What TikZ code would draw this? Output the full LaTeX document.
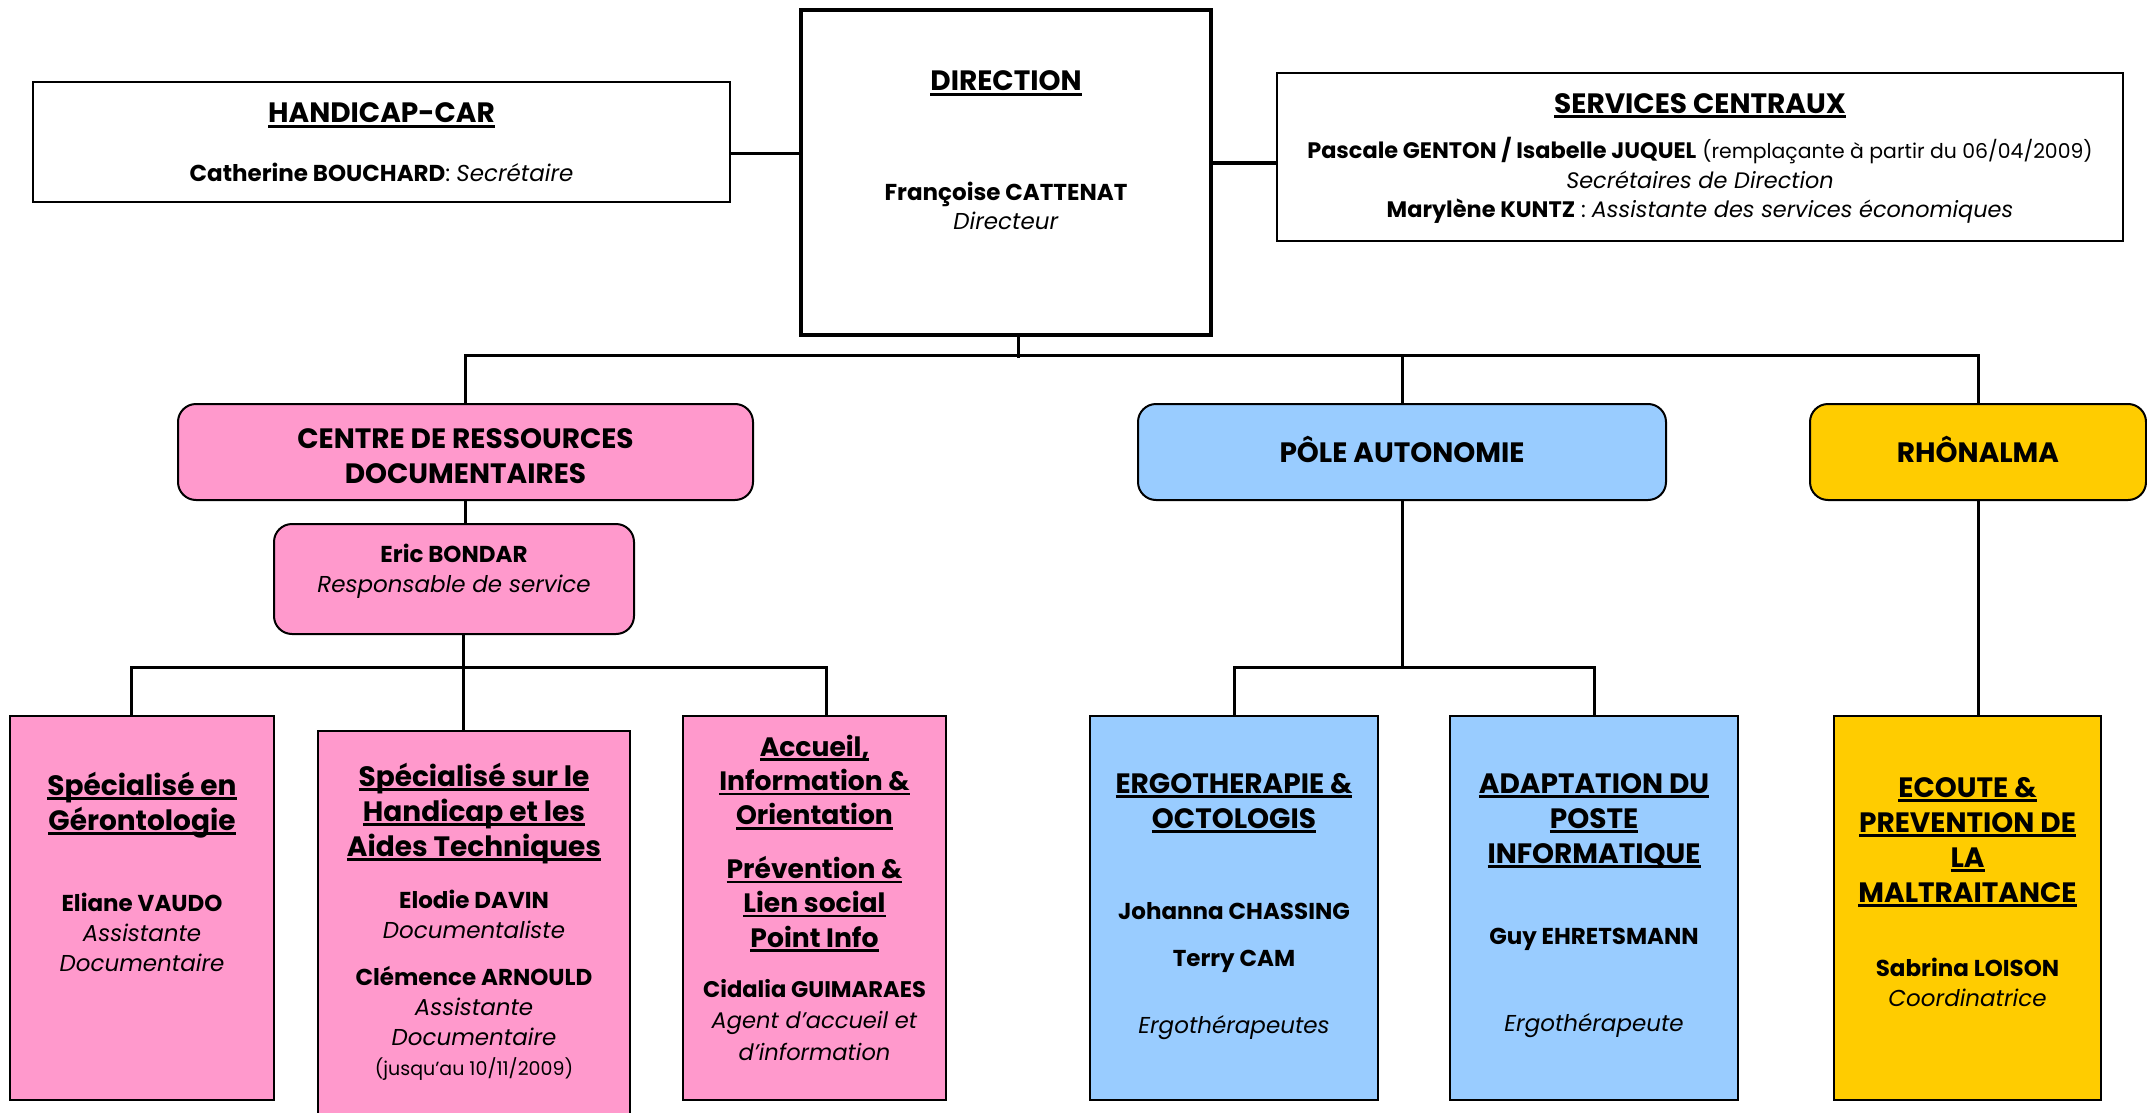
\documentclass[tikz,border=0pt]{standalone}
\usepackage{fontspec}
\setmainfont{Poppins}
\definecolor{rosecrd}{HTML}{FF99CC}
\definecolor{bleupole}{HTML}{99CCFF}
\definecolor{orrhone}{HTML}{FFCC00}
\newcommand\ulx[1]{\setbox0=\hbox{#1}\rlap{\rule[-2.4pt]{\wd0}{1.2pt}}\box0}
\begin{document}
\begin{tikzpicture}[x=0.5pt, y=-0.5pt,
    box/.style={rectangle, draw, line width=1pt, inner sep=0pt},
    unit/.style={box, rounded corners=9pt},
    link/.style={line width=1.5pt},
    ttl/.style={align=center, inner sep=0pt, anchor=base, font=\fontsize{14}{17.5}\selectfont\bfseries},
    txt/.style={align=center, inner sep=0pt, anchor=base, font=\fontsize{11.5}{15}\selectfont}]

    \useasboundingbox (0,0) rectangle (2147,1113);

    \node[box, line width=1.8pt, minimum width=205pt, minimum height=162.5pt] (dir) at (1006,172.5) {};
    \node[ttl] (dirT) at (1006,91) {\ulx{DIRECTION}};
    \node[txt, font=\fontsize{11.5}{14.5}\selectfont] (dirN) at (1006,229) {\textbf{Françoise CATTENAT}\\\textit{Directeur}};

    \node[box, minimum width=348.5pt, minimum height=60pt] (hc) at (381.5,142) {};
    \node[ttl] (hcT) at (381.5,123) {\ulx{HANDICAP-CAR}};
    \node[txt] (hcN) at (381.5,182) {\textbf{Catherine BOUCHARD}: \textit{Secrétaire}};

    \node[box, minimum width=423pt, minimum height=84pt] (sc) at (1700,157) {};
    \node[ttl] (scT) at (1700,113) {\ulx{SERVICES CENTRAUX}};
    \node[txt, font=\fontsize{11.2}{14.5}\selectfont] (scN) at (1700,217) {\textbf{Pascale GENTON / Isabelle JUQUEL} {\fontsize{10.2}{14.5}\selectfont(remplaçante à partir du 06/04/2009)}\\\textit{Secrétaires de Direction}\\\textbf{Marylène KUNTZ} : \textit{Assistante des services économiques}};

    \node[unit, fill=rosecrd, minimum width=287.5pt, minimum height=48pt] (crd) at (465.5,452) {};
    \node[ttl] (crdT) at (465.5,483) {CENTRE DE RESSOURCES\\DOCUMENTAIRES};
    \node[unit, fill=bleupole, minimum width=264pt, minimum height=48pt] (pa) at (1402,452) {};
    \node[ttl] (paT) at (1402,462) {PÔLE AUTONOMIE};
    \node[unit, fill=orrhone, minimum width=168pt, minimum height=48pt] (rh) at (1978,452) {};
    \node[ttl] (rhT) at (1978,462) {RHÔNALMA};

    \node[unit, fill=rosecrd, minimum width=180pt, minimum height=55pt] (eric) at (454,579) {};
    \node[txt] (ericN) at (454,592) {\textbf{Eric BONDAR}\\\textit{Responsable de service}};

    \node[box, fill=rosecrd, minimum width=132pt, minimum height=192pt] (b1) at (142,908) {};
    \node[ttl] (b1T) at (142,830) {\ulx{Spécialisé en}\\\ulx{Gérontologie}};
    \node[txt] (b1N) at (142,971) {\textbf{Eliane VAUDO}\\\textit{Assistante}\\\textit{Documentaire}};

    \node[box, fill=rosecrd, minimum width=156pt, minimum height=194.5pt] (b2) at (474,925.5) {};
    \node[ttl] (b2T) at (474,856) {\ulx{Spécialisé sur le}\\\ulx{Handicap et les}\\\ulx{Aides Techniques}};
    \node[txt] (b2N) at (474,1075) {\textbf{Elodie DAVIN}\\\textit{Documentaliste}\\[8.5pt]\textbf{Clémence ARNOULD}\\\textit{Assistante}\\\textit{Documentaire}\\{\fontsize{9.5}{15}\selectfont(jusqu’au 10/11/2009)}};

    \node[box, fill=rosecrd, minimum width=131.5pt, minimum height=192pt] (b3) at (814.5,908) {};
    \node[ttl, font=\fontsize{13.3}{17.2}\selectfont\bfseries] (b3T) at (814.5,947) {\ulx{Accueil,}\\\ulx{Information \&}\\\ulx{Orientation}\\[9.5pt]\ulx{Prévention \&}\\\ulx{Lien social}\\\ulx{Point Info}};
    \node[txt, font=\fontsize{11.3}{15.75}\selectfont] (b3N) at (814.5,1060) {\textbf{Cidalia GUIMARAES}\\\textit{Agent d’accueil et}\\\textit{d’information}};

    \node[box, fill=bleupole, minimum width=144pt, minimum height=192pt] (b4) at (1234,908) {};
    \node[ttl] (b4T) at (1234,828) {\ulx{ERGOTHERAPIE \&}\\\ulx{OCTOLOGIS}};
    \node[txt] (b4N) at (1234,1033) {\textbf{Johanna CHASSING}\\[8.5pt]\textbf{Terry CAM}\\[18.5pt]\textit{Ergothérapeutes}};

    \node[box, fill=bleupole, minimum width=144pt, minimum height=192pt] (b5) at (1594,908) {};
    \node[ttl] (b5T) at (1594,863) {\ulx{ADAPTATION DU}\\\ulx{POSTE}\\\ulx{INFORMATIQUE}};
    \node[txt] (b5N) at (1594,1031) {\textbf{Guy EHRETSMANN}\\[28.5pt]\textit{Ergothérapeute}};

    \node[box, fill=orrhone, minimum width=133.5pt, minimum height=192pt] (b6) at (1967.5,908) {};
    \node[ttl] (b6T) at (1967.5,902) {\ulx{ECOUTE \&}\\\ulx{PREVENTION DE}\\\ulx{LA}\\\ulx{MALTRAITANCE}};
    \node[txt] (b6N) at (1967.5,1006) {\textbf{Sabrina LOISON}\\\textit{Coordinatrice}};

    \draw[link] ([yshift=-6pt]hc.east) -- ([yshift=-6pt]hc.east -| dir.west);
    \draw[link] ([yshift=-3pt]sc.west) -- ([yshift=-3pt]sc.west -| dir.east);
    \draw[link] ([xshift=6pt]dir.south) -- ++(0,21);
    \draw[link] (crd.north) -- ++(0,-48) -| (rh.north);
    \draw[link] (pa.north) -- ++(0,-48);
    \draw[link] (crd.south) -- (crd.south |- eric.north);
    \draw[link] ([xshift=4.5pt]eric.south) -- ([xshift=4.5pt]eric.south |- b2.north);
    \draw[link] ([xshift=-5.5pt]b1.north) -- ++(0,-48) -| ([xshift=5.75pt]b3.north);
    \draw[link] (pa.south) -- ++(0,168);
    \draw[link] (b4.north) -- ++(0,-48) -| (b5.north);
    \draw[link] (rh.south) -- (rh.south |- b6.north);
\end{tikzpicture}
\end{document}
